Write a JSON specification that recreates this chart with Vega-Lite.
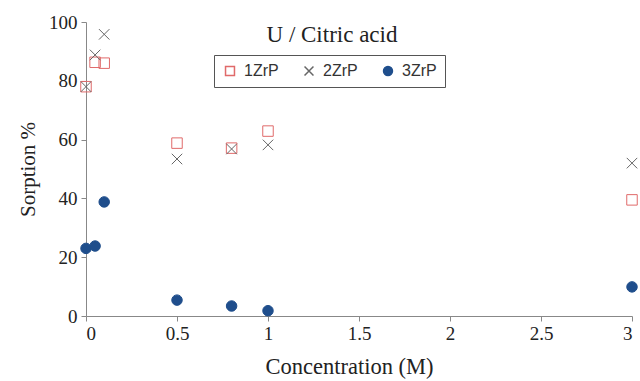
{
  "$schema": "https://vega.github.io/schema/vega-lite/v6.json",
  "autosize": "none",
  "width": 546,
  "height": 294,
  "padding": {"left": 86, "top": 22, "right": 8, "bottom": 65},
  "background": "white",
  "title": {
    "text": "U / Citric acid",
    "font": "Liberation Serif",
    "fontSize": 23,
    "fontWeight": "normal",
    "color": "#222",
    "frame": "group",
    "anchor": "middle",
    "dx": -27,
    "offset": -34
  },
  "config": {
    "view": {"stroke": null},
    "axis": {"labelFont": "Liberation Serif", "titleFont": "Liberation Serif"},
    "legend": {"labelFont": "Liberation Sans"}
  },
  "data": {
    "values": [
      {"c": 0, "s": 78, "series": "1ZrP"},
      {"c": 0.05, "s": 86.3, "series": "1ZrP"},
      {"c": 0.1, "s": 86, "series": "1ZrP"},
      {"c": 0.5, "s": 58.8, "series": "1ZrP"},
      {"c": 0.8, "s": 57.1, "series": "1ZrP"},
      {"c": 1, "s": 62.9, "series": "1ZrP"},
      {"c": 3, "s": 39.5, "series": "1ZrP"},
      {"c": 0, "s": 78, "series": "2ZrP"},
      {"c": 0.05, "s": 88.8, "series": "2ZrP"},
      {"c": 0.1, "s": 95.8, "series": "2ZrP"},
      {"c": 0.5, "s": 53.4, "series": "2ZrP"},
      {"c": 0.8, "s": 56.8, "series": "2ZrP"},
      {"c": 1, "s": 58.2, "series": "2ZrP"},
      {"c": 3, "s": 52, "series": "2ZrP"},
      {"c": 0, "s": 23, "series": "3ZrP"},
      {"c": 0.05, "s": 23.8, "series": "3ZrP"},
      {"c": 0.1, "s": 38.8, "series": "3ZrP"},
      {"c": 0.5, "s": 5.4, "series": "3ZrP"},
      {"c": 0.8, "s": 3.4, "series": "3ZrP"},
      {"c": 1, "s": 1.8, "series": "3ZrP"},
      {"c": 3, "s": 9.9, "series": "3ZrP"}
    ]
  },
  "mark": {"type": "point", "strokeWidth": 1, "size": 110, "opacity": 1},
  "encoding": {
    "x": {
      "field": "c", "type": "quantitative",
      "scale": {"domain": [0, 3], "nice": false},
      "axis": {
        "values": [0, 0.5, 1, 1.5, 2, 2.5, 3],
        "format": "~g",
        "grid": false,
        "title": "Concentration (M)",
        "titleFont": "Liberation Serif", "titleFontSize": 22.5, "titleFontWeight": "normal", "titleColor": "#222",
        "titlePadding": 12,
        "titleX": 263,
        "labelFont": "Liberation Serif", "labelFontSize": 19, "labelColor": "#222",
        "labelPadding": 3,
        "domainColor": "#888", "tickColor": "#888", "tickSize": 5
      }
    },
    "y": {
      "field": "s", "type": "quantitative",
      "scale": {"domain": [0, 100], "nice": false},
      "axis": {
        "values": [0, 20, 40, 60, 80, 100],
        "grid": false,
        "title": "Sorption %",
        "titleFont": "Liberation Serif", "titleFontSize": 21, "titleFontWeight": "normal", "titleColor": "#222",
        "titlePadding": 10,
        "labelFont": "Liberation Serif", "labelFontSize": 19, "labelColor": "#222",
        "labelPadding": 4,
        "domainColor": "#888", "tickColor": "#888", "tickSize": 5
      }
    },
    "stroke": {
      "field": "series", "type": "nominal",
      "scale": {"domain": ["1ZrP", "2ZrP", "3ZrP"], "range": ["#e06a6a", "#666666", "#1f4e8c"]},
      "legend": {
        "title": null,
        "orient": "none", "legendX": 128, "legendY": 33,
        "direction": "horizontal",
        "strokeColor": "#555", "padding": 8,
        "labelFont": "Liberation Sans", "labelFontSize": 16, "labelColor": "#333",
        "labelOffset": 6,
        "symbolSize": 80, "columnPadding": 22
      }
    },
    "fill": {
      "field": "series", "type": "nominal",
      "scale": {"domain": ["1ZrP", "2ZrP", "3ZrP"], "range": ["transparent", "transparent", "#1f4e8c"]},
      "legend": {
        "title": null,
        "orient": "none", "legendX": 128, "legendY": 33,
        "direction": "horizontal",
        "strokeColor": "#555", "padding": 8,
        "labelFont": "Liberation Sans", "labelFontSize": 16, "labelColor": "#333",
        "labelOffset": 6,
        "symbolSize": 80, "columnPadding": 22
      }
    },
    "shape": {
      "field": "series", "type": "nominal",
      "scale": {"domain": ["1ZrP", "2ZrP", "3ZrP"], "range": ["square", "M-1,-1L1,1M1,-1L-1,1", "circle"]},
      "legend": {
        "title": null,
        "orient": "none", "legendX": 128, "legendY": 33,
        "direction": "horizontal",
        "strokeColor": "#555", "padding": 8,
        "labelFont": "Liberation Sans", "labelFontSize": 16, "labelColor": "#333",
        "labelOffset": 6,
        "symbolSize": 80, "columnPadding": 22
      }
    }
  }
}
